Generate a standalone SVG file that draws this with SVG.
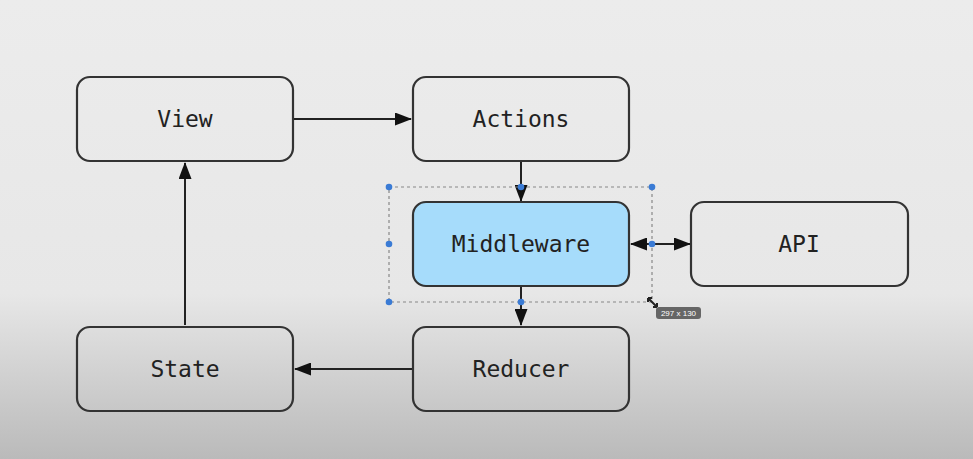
<svg xmlns="http://www.w3.org/2000/svg" width="973" height="459" viewBox="0 0 973 459">
<defs>
<linearGradient id="bg" x1="0" y1="0" x2="0" y2="1">
<stop offset="0" stop-color="#ececec"/>
<stop offset="0.64" stop-color="#e7e7e7"/>
<stop offset="1" stop-color="#bababa"/>
</linearGradient>
<marker id="ah" viewBox="0 0 17 13" refX="16" refY="6.5" markerWidth="17" markerHeight="13" markerUnits="userSpaceOnUse" orient="auto-start-reverse">
<path d="M0,0 L17,6.5 L0,13 Z" fill="#111"/>
</marker>
<style>
.box{fill:none;stroke:#333;stroke-width:2.2}
.lbl{font-family:"DejaVu Sans Mono","Liberation Mono",monospace;font-size:23px;fill:#222;text-anchor:middle;dominant-baseline:central}
.con{stroke:#222;stroke-width:2;fill:none}
.h{fill:#3a7bd5}
</style>
</defs>
<rect width="973" height="459" fill="url(#bg)"/>
<g id="connectors">
<line class="con" x1="294" y1="119" x2="411" y2="119" marker-end="url(#ah)"/>
<line class="con" x1="521" y1="162" x2="521" y2="201" marker-end="url(#ah)"/>
<line class="con" x1="631" y1="244" x2="690" y2="244" marker-start="url(#ah)" marker-end="url(#ah)"/>
<line class="con" x1="521" y1="287" x2="521" y2="325" marker-end="url(#ah)"/>
<line class="con" x1="412" y1="369" x2="295" y2="369" marker-end="url(#ah)"/>
<line class="con" x1="185" y1="325" x2="185" y2="163" marker-end="url(#ah)"/>
</g>
<g id="view"><rect class="box" x="77" y="77" width="216" height="84" rx="13"/><text class="lbl" x="185" y="119">View</text></g>
<g id="actions"><rect class="box" x="413" y="77" width="216" height="84" rx="13"/><text class="lbl" x="521" y="119">Actions</text></g>
<g id="middleware"><rect class="box" x="413" y="202" width="216" height="84" rx="13" style="fill:#a6dcfb"/><text class="lbl" x="521" y="244">Middleware</text></g>
<g id="api"><rect class="box" x="691" y="202" width="217" height="84" rx="13"/><text class="lbl" x="799" y="244">API</text></g>
<g id="state"><rect class="box" x="77" y="327" width="216" height="84" rx="13"/><text class="lbl" x="185" y="369">State</text></g>
<g id="reducer"><rect class="box" x="413" y="327" width="216" height="84" rx="13"/><text class="lbl" x="521" y="369">Reducer</text></g>
<g id="selection">
<rect x="389" y="187" width="263" height="115" fill="none" stroke="#888" stroke-width="1.2" stroke-dasharray="3,3"/>
<circle class="h" cx="389" cy="187" r="3.3"/><circle class="h" cx="521" cy="187" r="3.3"/><circle class="h" cx="652" cy="187" r="3.3"/>
<circle class="h" cx="389" cy="244" r="3.3"/><circle class="h" cx="652" cy="244" r="3.3"/>
<circle class="h" cx="389" cy="302" r="3.3"/><circle class="h" cx="521" cy="302" r="3.3"/>
<path d="M648,298 L657,307 M648,298 l0,4 M648,298 l4,0 M657,307 l0,-4 M657,307 l-4,0" stroke="#222" stroke-width="2" fill="none"/>
<rect x="656" y="307" width="45" height="12" rx="3" fill="#666"/>
<text x="678.5" y="313" font-family="Liberation Sans,Arial,sans-serif" font-size="8" fill="#fff" text-anchor="middle" dominant-baseline="central">297 x 130</text>
</g>
</svg>
